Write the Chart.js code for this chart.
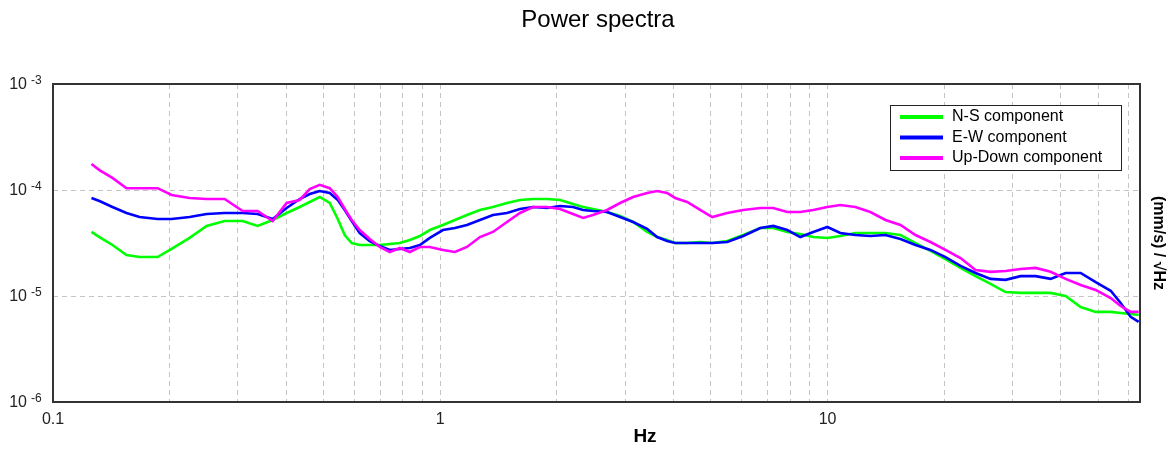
<!DOCTYPE html>
<html>
<head>
<meta charset="utf-8">
<script src="https://cdn.jsdelivr.net/npm/chart.js@4.4.1/dist/chart.umd.min.js"></script>
<style>
  html, body { margin: 0; padding: 0; background: #fff; }
  #wrap { width: 1176px; height: 453px; }
</style>
</head>
<body>
<div id="wrap"><canvas id="powerSpectra" width="1176" height="453"></canvas></div>
<script>
// frequencies (Hz) shared by the three components
const freqHz = [0.1257, 0.1318, 0.1424, 0.1548, 0.1673, 0.1862, 0.2024, 0.2253, 0.2493, 0.2774,
  0.3088, 0.3377, 0.3692, 0.4012, 0.4335, 0.4602, 0.4884, 0.5183, 0.5436, 0.5667,
  0.5907, 0.6195, 0.6576, 0.698, 0.7408, 0.7863, 0.8346, 0.8858, 0.94, 1.016,
  1.091, 1.172, 1.266, 1.368, 1.487, 1.606, 1.736, 1.887, 2.038, 2.202,
  2.337, 2.48, 2.696, 2.913, 3.148, 3.421, 3.631, 3.853, 4.041, 4.341,
  4.69, 5.037, 5.508, 6.057, 6.705, 7.241, 7.871, 8.504, 9.189, 9.988,
  10.79, 11.8, 12.9, 14.11, 15.43, 16.87, 18.44, 20.16, 22.05, 24.11,
  26.36, 28.82, 31.51, 34.46, 37.67, 41.19, 45.04, 49.25, 53.85, 57.14,
  60.64, 63.6];

const nsComponent = [4.02e-5, 3.60e-5, 3.03e-5, 2.44e-5, 2.33e-5, 2.33e-5, 2.78e-5, 3.53e-5, 4.58e-5, 5.10e-5,
  5.10e-5, 4.58e-5, 5.21e-5, 6.07e-5, 6.91e-5, 7.71e-5, 8.59e-5, 7.54e-5, 5.33e-5, 3.76e-5,
  3.16e-5, 3.03e-5, 3.03e-5, 3.03e-5, 3.09e-5, 3.16e-5, 3.38e-5, 3.68e-5, 4.19e-5, 4.68e-5,
  5.21e-5, 5.81e-5, 6.48e-5, 6.91e-5, 7.54e-5, 8.05e-5, 8.22e-5, 8.22e-5, 8.05e-5, 7.38e-5,
  6.91e-5, 6.62e-5, 6.20e-5, 5.69e-5, 4.99e-5, 4.02e-5, 3.60e-5, 3.38e-5, 3.16e-5, 3.16e-5,
  3.23e-5, 3.16e-5, 3.30e-5, 3.76e-5, 4.38e-5, 4.38e-5, 4.02e-5, 3.85e-5, 3.60e-5, 3.53e-5,
  3.68e-5, 3.93e-5, 3.93e-5, 3.93e-5, 3.76e-5, 3.16e-5, 2.66e-5, 2.23e-5, 1.84e-5, 1.54e-5,
  1.30e-5, 1.09e-5, 1.07e-5, 1.07e-5, 1.07e-5, 1.00e-5, 7.87e-6, 7.08e-6, 7.08e-6, 6.92e-6,
  6.78e-6, 6.63e-6];

const ewComponent = [8.41e-5, 7.88e-5, 6.91e-5, 6.07e-5, 5.56e-5, 5.33e-5, 5.33e-5, 5.56e-5, 5.94e-5, 6.07e-5,
  6.07e-5, 5.94e-5, 5.33e-5, 6.77e-5, 8.22e-5, 9.17e-5, 9.79e-5, 9.37e-5, 8.05e-5, 6.48e-5,
  5.10e-5, 3.93e-5, 3.30e-5, 2.96e-5, 2.72e-5, 2.78e-5, 2.84e-5, 3.03e-5, 3.53e-5, 4.19e-5,
  4.38e-5, 4.68e-5, 5.21e-5, 5.81e-5, 6.07e-5, 6.62e-5, 6.91e-5, 6.77e-5, 7.07e-5, 6.91e-5,
  6.48e-5, 6.34e-5, 6.20e-5, 5.56e-5, 4.99e-5, 4.29e-5, 3.60e-5, 3.30e-5, 3.16e-5, 3.16e-5,
  3.16e-5, 3.16e-5, 3.23e-5, 3.68e-5, 4.38e-5, 4.58e-5, 4.19e-5, 3.60e-5, 4.02e-5, 4.48e-5,
  3.93e-5, 3.76e-5, 3.68e-5, 3.76e-5, 3.45e-5, 3.03e-5, 2.72e-5, 2.33e-5, 1.92e-5, 1.65e-5,
  1.45e-5, 1.42e-5, 1.54e-5, 1.54e-5, 1.45e-5, 1.65e-5, 1.65e-5, 1.35e-5, 1.12e-5, 8.59e-6,
  6.35e-6, 5.69e-6];

const udComponent = [1.76e-4, 1.54e-4, 1.30e-4, 1.04e-4, 1.04e-4, 1.04e-4, 8.97e-5, 8.41e-5, 8.22e-5, 8.22e-5,
  6.34e-5, 6.34e-5, 5.10e-5, 7.54e-5, 8.05e-5, 1.02e-4, 1.12e-4, 1.04e-4, 8.59e-5, 6.62e-5,
  5.21e-5, 4.19e-5, 3.45e-5, 2.90e-5, 2.60e-5, 2.84e-5, 2.60e-5, 2.90e-5, 2.90e-5, 2.72e-5,
  2.60e-5, 2.90e-5, 3.60e-5, 4.02e-5, 4.99e-5, 6.07e-5, 6.91e-5, 6.91e-5, 6.62e-5, 5.94e-5,
  5.45e-5, 5.81e-5, 6.48e-5, 7.54e-5, 8.59e-5, 9.37e-5, 9.79e-5, 9.37e-5, 8.41e-5, 7.71e-5,
  6.48e-5, 5.56e-5, 6.07e-5, 6.48e-5, 6.77e-5, 6.77e-5, 6.20e-5, 6.20e-5, 6.48e-5, 6.91e-5,
  7.22e-5, 6.91e-5, 6.20e-5, 5.21e-5, 4.68e-5, 3.76e-5, 3.23e-5, 2.72e-5, 2.28e-5, 1.76e-5,
  1.69e-5, 1.72e-5, 1.80e-5, 1.84e-5, 1.69e-5, 1.45e-5, 1.27e-5, 1.14e-5, 9.57e-6, 8.04e-6,
  7.08e-6, 7.08e-6];

const seriesLabels = ["N-S component", "E-W component", "Up-Down component"];
const seriesColors = ["#00ff00", "#0000ff", "#ff00ff"];

// x grid lines (log decades split in units) and the labelled ones
const xGridValues = [0.1, 0.2, 0.3, 0.4, 0.5, 0.6, 0.7, 0.8, 0.9,
  1, 2, 3, 4, 5, 6, 7, 8, 9, 10, 20, 30, 40, 50, 60];
const xTickValues = [0.1, 1, 10];
const xTickLabels = ["0.1", "1", "10"];
const yTickValues = [1e-3, 1e-4, 1e-5, 1e-6];
const yTickExponents = ["-3", "-4", "-5", "-6"];

const chartTitle = "Power spectra";
const xTitle = "Hz";
const yTitle = "(mm/s) / \u221AHz";

const narrow = '"Liberation Sans Narrow", "Liberation Sans", Arial, sans-serif';
const regular = '"Liberation Sans", Arial, sans-serif';

const sameValue = (a, b) => Math.abs(Math.log10(a) - Math.log10(b)) < 1e-6;

const toPoints = arr => arr.map((v, i) => ({ x: freqHz[i], y: v }));

const decor = {
  id: "decor",
  afterDraw(chart) {
    const { ctx, chartArea: area, scales } = chart;
    ctx.save();

    // frame
    ctx.strokeStyle = "#333";
    ctx.lineWidth = 2;
    ctx.strokeRect(area.left, area.top, area.right - area.left, area.bottom - area.top);

    // title
    ctx.fillStyle = "#000";
    ctx.font = "24px " + regular;
    ctx.textAlign = "center";
    ctx.textBaseline = "alphabetic";
    ctx.fillText(chartTitle, 598, 27);

    // y tick labels 10^n
    yTickValues.forEach((v, i) => {
      const y = scales.y.getPixelForValue(v);
      ctx.fillStyle = "#222";
      ctx.font = "16px " + narrow;
      ctx.textAlign = "right";
      ctx.textBaseline = "middle";
      ctx.fillText("10", 27, y + 1);
      ctx.font = "12px " + narrow;
      ctx.textAlign = "left";
      ctx.textBaseline = "top";
      ctx.fillText(yTickExponents[i], 31, y - 9);
    });

    // x axis title
    ctx.fillStyle = "#000";
    ctx.font = "bold 19px " + narrow;
    ctx.textAlign = "center";
    ctx.textBaseline = "middle";
    ctx.fillText(xTitle, 645, 437);

    // y axis title on the right, reading downwards
    ctx.save();
    ctx.translate(1158, (area.top + area.bottom) / 2);
    ctx.rotate(Math.PI / 2);
    ctx.font = "bold 16px " + regular;
    ctx.fillText(yTitle, 0, 0);
    ctx.restore();

    // legend
    const lx = 890, ly = 105, lw = 231, lh = 65;
    ctx.fillStyle = "#fff";
    ctx.fillRect(lx, ly, lw, lh);
    ctx.strokeStyle = "#222";
    ctx.lineWidth = 1;
    ctx.strokeRect(lx + 0.5, ly + 0.5, lw, lh);
    chart.data.datasets.forEach((ds, i) => {
      const ry = 117 + i * 20.5;
      ctx.strokeStyle = ds.borderColor;
      ctx.lineWidth = 4;
      ctx.beginPath();
      ctx.moveTo(900, ry);
      ctx.lineTo(943, ry);
      ctx.stroke();
      ctx.fillStyle = "#000";
      ctx.font = "16px " + regular;
      ctx.textAlign = "left";
      ctx.textBaseline = "middle";
      ctx.fillText(ds.label, 952, ry);
    });

    ctx.restore();
  }
};

const ctx = document.getElementById("powerSpectra");

const powerChart = new Chart(ctx, {
  type: "line",
  data: {
    datasets: [
      { label: seriesLabels[0], data: toPoints(nsComponent), borderColor: seriesColors[0], order: 3 },
      { label: seriesLabels[1], data: toPoints(ewComponent), borderColor: seriesColors[1], order: 2 },
      { label: seriesLabels[2], data: toPoints(udComponent), borderColor: seriesColors[2], order: 1 }
    ]
  },
  options: {
    responsive: false,
    devicePixelRatio: 1,
    animation: false,
    parsing: false,
    layout: {
      padding: { top: 84, right: 36, left: 0, bottom: 0 }
    },
    elements: {
      line: { borderWidth: 2.6, tension: 0, fill: false },
      point: { radius: 0 }
    },
    plugins: {
      legend: { display: false },
      title: { display: false },
      tooltip: { enabled: false }
    },
    scales: {
      x: {
        type: "logarithmic",
        min: 0.1,
        max: 64.1,
        afterBuildTicks: scale => {
          scale.ticks = xGridValues.map(v => ({ value: v }));
        },
        afterFit: scale => {
          scale.height = 51;
        },
        grid: {
          color: c => (c.tick && c.tick.value > 0.1 ? "#c4c4c4" : "rgba(0,0,0,0)"),
          lineWidth: 1,
          drawTicks: false
        },
        border: { display: false, dash: [5, 4] },
        ticks: {
          autoSkip: false,
          maxRotation: 0,
          padding: 8,
          color: "#222",
          font: { family: narrow, size: 16 },
          callback: value => {
            const i = xTickValues.findIndex(t => sameValue(t, value));
            return i >= 0 ? xTickLabels[i] : "";
          }
        }
      },
      y: {
        type: "logarithmic",
        min: 1e-6,
        max: 1e-3,
        afterBuildTicks: scale => {
          scale.ticks = yTickValues.map(v => ({ value: v }));
        },
        afterFit: scale => {
          scale.width = 53;
        },
        grid: {
          color: c => (c.tick && (sameValue(c.tick.value, 1e-4) || sameValue(c.tick.value, 1e-5)) ? "#c4c4c4" : "rgba(0,0,0,0)"),
          lineWidth: 1,
          drawTicks: false
        },
        border: { display: false, dash: [5, 4] },
        ticks: { display: false }
      }
    }
  },
  plugins: [decor]
});
</script>
</body>
</html>
